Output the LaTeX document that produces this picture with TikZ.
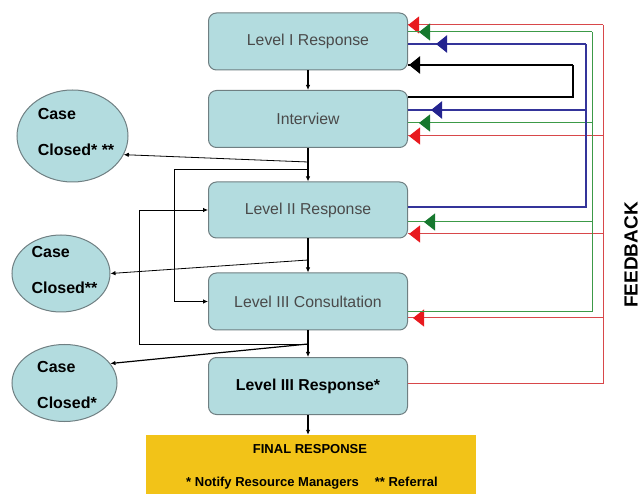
\documentclass[tikz,border=0pt]{standalone}
\usepackage{fontspec}
\setmainfont{Liberation Sans}
\usetikzlibrary{arrows.meta,shapes.geometric,decorations.markings}
\definecolor{boxfill}{HTML}{B3DCDF}
\definecolor{boxline}{HTML}{6F7F82}
\definecolor{boxtext}{HTML}{4A4A4A}
\definecolor{finalfill}{HTML}{F2C318}
\definecolor{fbred}{HTML}{D8474A}
\definecolor{fbgreen}{HTML}{3C9A48}
\definecolor{fbblue}{HTML}{34349A}
\definecolor{tipred}{HTML}{E8191E}
\definecolor{tipgreen}{HTML}{16782E}
\definecolor{tipblue}{HTML}{23238F}
\tikzset{
  level/.style={draw=boxline, fill=boxfill, rounded corners=8pt, line width=1pt,
    minimum width=199pt, minimum height=57pt, inner sep=0pt,
    font=\fontsize{15.8}{19}\selectfont, text=boxtext},
  closed/.style={ellipse, draw=boxline, fill=boxfill, line width=1pt, inner sep=0pt},
  closedtext/.style={align=left, inner sep=0pt, font=\bfseries\fontsize{16}{36}\selectfont},
  flow/.style={-{Latex[length=5pt,width=4.5pt]}, line width=1.3pt},
  side/.style={-{Latex[length=5pt,width=4.5pt]}, line width=0.8pt},
  redfb/.style={draw=fbred, line width=1pt},
  greenfb/.style={draw=fbgreen, line width=1pt},
  bluefb/.style={draw=fbblue, line width=2.4pt},
  blackfb/.style={draw=black, line width=2.4pt},
  fbtip/.style 2 args={postaction={decorate, decoration={markings,
    mark=at position #1 with {\arrow{Triangle[length=11pt,width=17pt,color=#2]}}}}},
}
\begin{document}
\begin{tikzpicture}[x=1pt, y=-1pt]
    \useasboundingbox (0,0) rectangle (640,494);
    % main boxes
    \node[level] (lvlone) at (308,41.5) {Level I Response};
    \node[level] (interview) at (308,119) {Interview};
    \node[level, minimum height=56pt] (lvltwo) at (308,210) {Level II Response};
    \node[level] (consult) at (308,301.5) {Level III Consultation};
    \node[level, text=black, font=\bfseries\fontsize{15.8}{19}\selectfont] (lvlthree) at (308,386) {Level III Response*};
    \node[fill=finalfill, minimum width=330pt, minimum height=70pt, inner sep=0pt] (final) at (311,470) {};
    \node[font=\bfseries\fontsize{13}{15}\selectfont] (finaltitle) at (310,449) {FINAL RESPONSE};
    \node[font=\bfseries\fontsize{13}{15}\selectfont] (finalnote) at (312,483) {* Notify Resource Managers\hspace{16pt}** Referral};
    % case closed
    \node[closed, minimum width=111pt, minimum height=92pt] (closedA) at (72.5,136) {};
    \node[closedtext] (closedAtext) at (76,131.5) {Case\\Closed* **};
    \node[closed, minimum width=98pt, minimum height=77pt] (closedB) at (61,273.5) {};
    \node[closedtext] (closedBtext) at (64.5,269.5) {Case\\Closed**};
    \node[closed, minimum width=105pt, minimum height=77pt] (closedC) at (64.5,383) {};
    \node[closedtext] (closedCtext) at (67,384.5) {Case\\Closed*};
    \node[rotate=90, font=\bfseries\fontsize{19}{22}\selectfont] (fbtitle) at (631,255) {FEEDBACK};
    % flow down
    \draw[flow] (lvlone) -- (interview);
    \draw[flow] (interview) -- (lvltwo);
    \draw[flow] (lvltwo) -- (consult);
    \draw[flow] (consult) -- (lvlthree);
    \draw[flow] (lvlthree.south) -- (lvlthree.south |- final.north);
    % branches off the main line
    \coordinate (splitA) at (308,162);
    \coordinate (skipA) at (308,169);
    \coordinate (splitB) at (308,260);
    \coordinate (loopB) at (308,344);
    \draw[side] (splitA) -- (closedA.-20);
    \draw[side] (skipA) -| ([xshift=-34pt]consult.west) -- (consult.west);
    \draw[side] (splitB) -- (closedB.east);
    \draw[side] (loopB) -| ([xshift=-69pt]lvltwo.west) -- (lvltwo.west);
    \draw[side, line width=1.2pt] (loopB) -- (closedC.23);
    % feedback rails
    \coordinate (redI) at (603,25);
    \coordinate (redII) at (603,136);
    \coordinate (redIII) at (603,234);
    \coordinate (redIV) at (603,318);
    \coordinate (redsrc) at (603,383);
    \coordinate (greenI) at (592,32);
    \coordinate (greenII) at (592,123);
    \coordinate (greenIII) at (592,222);
    \coordinate (greensrc) at (592,312);
    \coordinate (blueI) at (586,44);
    \coordinate (blueII) at (586,110);
    \coordinate (bluesrc) at (586,207);
    \coordinate (blackI) at (573,65);
    \coordinate (blacksrc) at (573,97);
    \draw[redfb] ([yshift=3pt]lvlthree.east) -- (redsrc) -- (redI);
    \draw[redfb, fbtip={-0.1pt}{tipred}] (redI) -- (redI -| lvlone.east);
    \draw[redfb, fbtip={-1pt}{tipred}] (redII) -- (redII -| interview.east);
    \draw[redfb, fbtip={-1pt}{tipred}] (redIII) -- (redIII -| lvltwo.east);
    \draw[redfb, fbtip={-5pt}{tipred}] (redIV) -- (redIV -| consult.east);
    \draw[greenfb] ([yshift=-10.5pt]consult.east) -- (greensrc) -- (greenI);
    \draw[greenfb, fbtip={-11pt}{tipgreen}] (greenI) -- (greenI -| lvlone.east);
    \draw[greenfb, fbtip={-11pt}{tipgreen}] (greenII) -- (greenII -| interview.east);
    \draw[greenfb, fbtip={-16pt}{tipgreen}] (greenIII) -- (greenIII -| lvltwo.east);
    \draw[bluefb] ([yshift=3pt]lvltwo.east) -- (bluesrc) -- (blueI);
    \draw[bluefb, fbtip={-28pt}{tipblue}] (blueI) -- (blueI -| lvlone.east);
    \draw[bluefb, fbtip={-23pt}{tipblue}] (blueII) -- (blueII -| interview.east);
    \draw[blackfb] ([yshift=22pt]interview.east) -- (blacksrc) -- (blackI);
    \draw[blackfb, fbtip={-1pt}{black}] (blackI) -- (blackI -| lvlone.east);
\end{tikzpicture}
\end{document}
